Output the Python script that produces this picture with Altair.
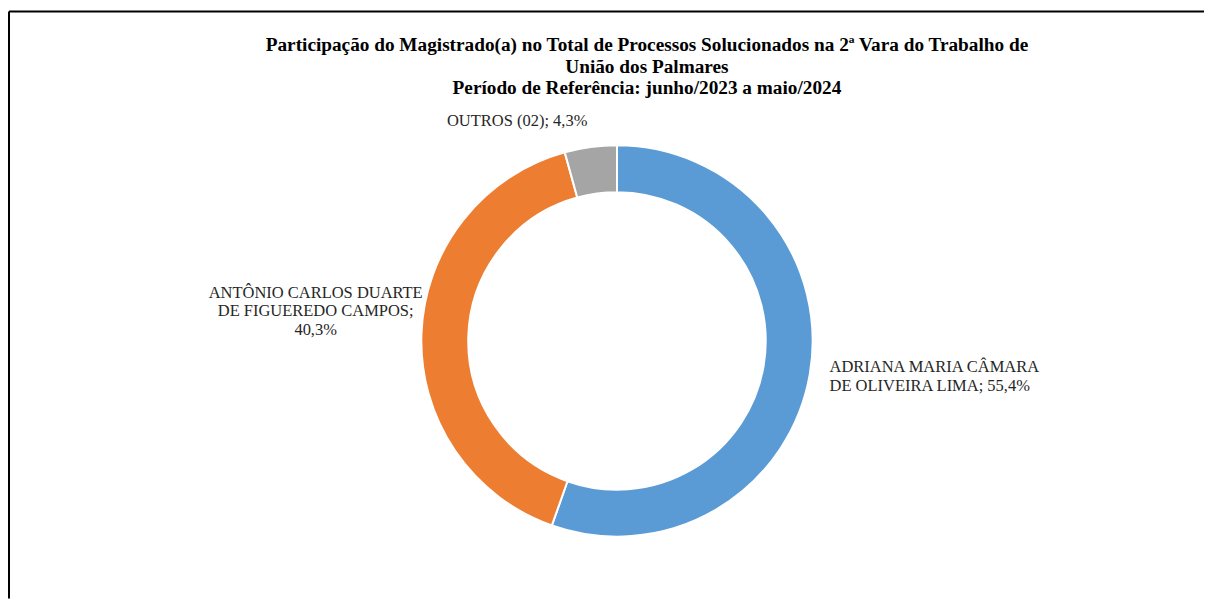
import altair as alt
import pandas as pd

categories = [
    "ADRIANA MARIA CÂMARA DE OLIVEIRA LIMA",
    "ANTÔNIO CARLOS DUARTE DE FIGUEREDO CAMPOS",
    "OUTROS (02)",
]
values = [55.4, 40.3, 4.3]
colors = ["#5B9BD5", "#ED7D31", "#A5A5A5"]
label_text = [
    "ADRIANA MARIA CÂMARA\nDE OLIVEIRA LIMA; 55,4%",
    "ANTÔNIO CARLOS DUARTE\nDE FIGUEREDO CAMPOS;\n40,3%",
    "OUTROS (02); 4,3%",
]
title_lines = [
    "Participação do Magistrado(a) no Total de Processos Solucionados na 2ª Vara do Trabalho de",
    "União dos Palmares",
    "Período de Referência: junho/2023 a maio/2024",
]

W, H = 1197, 588
CX, CY = 609, 330

df = pd.DataFrame({"cat": categories, "value": values, "order": list(range(len(categories))), "label": label_text})

theta_scale = alt.Scale(domain=[0, 100])

base = alt.Chart(df)

arc = base.mark_arc(innerRadius=149, outerRadius=196, stroke="white", strokeWidth=2).encode(
    theta=alt.Theta("value:Q", stack=True, scale=theta_scale),
    color=alt.Color("cat:N", scale=alt.Scale(domain=categories, range=colors), legend=None),
    order=alt.Order("order:Q"),
    x=alt.value(CX),
    y=alt.value(CY),
)

lab_base = base.transform_window(
    cum="sum(value)", sort=[alt.SortField("order")]
).transform_calculate(mid="datum.cum - datum.value / 2")


def label(i, align, r, dx, dy):
    return lab_base.transform_filter(alt.datum.order == i).mark_text(
        align=align, baseline="middle", radius=r, dx=dx, dy=dy, lineBreak="\n",
        font="Liberation Serif", fontSize=16.5, lineHeight=18.5, color="#262626",
    ).encode(
        theta=alt.Theta("mid:Q", stack=None, scale=theta_scale),
        text="label:N",
        x=alt.value(CX),
        y=alt.value(CY),
    )


labels = [
    label(0, "left", 215, 1, -10),
    label(1, "center", 300, -2, -38),
    label(2, "right", 220, 0, -2),
]

one = alt.Data(values=[{}])

title = alt.Chart(one).mark_text(
    text=title_lines, font="Liberation Serif", fontSize=19.3, fontWeight="bold",
    lineHeight=21.5, align="center", baseline="top", color="#000000",
).encode(x=alt.value(639), y=alt.value(25))

frame_top = alt.Chart(one).mark_rule(color="black", strokeWidth=2).encode(
    x=alt.value(0), x2=alt.value(W), y=alt.value(0)
)
frame_left = alt.Chart(one).mark_rule(color="black", strokeWidth=2).encode(
    x=alt.value(0), y=alt.value(0), y2=alt.value(H)
)

chart = alt.layer(arc, *labels, title, frame_top, frame_left).properties(
    width=W, height=H, padding={"left": 0, "top": 2, "right": 0, "bottom": 0},
).configure_view(strokeWidth=0, stroke="transparent")

chart.save("out.html", embed_options={"renderer": "svg", "actions": False})
